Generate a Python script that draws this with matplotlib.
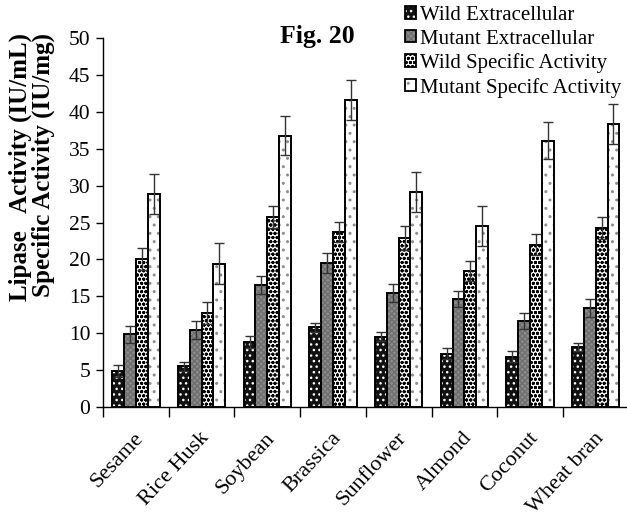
import matplotlib
matplotlib.use("Agg")
import matplotlib.pyplot as plt
import numpy as np
from matplotlib.patches import Patch
from matplotlib.legend_handler import HandlerTuple
import matplotlib.transforms as mtransforms

categories = ["Sesame", "Rice Husk", "Soybean", "Brassica", "Sunflower", "Almond", "Coconut", "Wheat bran"]
series_names = ["Wild Extracellular", "Mutant Extracellular", "Wild Specific Activity", "Mutant Specifc Activity"]

wild_ext = [4.8, 5.5, 8.8, 10.8, 9.5, 7.2, 6.8, 8.1]
wild_ext_err = [0.8, 0.6, 0.8, 0.6, 0.6, 0.7, 0.7, 0.6]
mutant_ext = [9.8, 10.4, 16.5, 19.5, 15.4, 14.6, 11.6, 13.4]
mutant_ext_err = [1.1, 1.2, 1.2, 1.3, 1.2, 1.1, 1.1, 1.2]
wild_spec = [20.0, 12.7, 25.8, 23.7, 22.9, 18.4, 22.0, 24.3]
wild_spec_err = [1.5, 1.5, 1.5, 1.4, 1.6, 1.4, 1.4, 1.5]
mutant_spec = [28.9, 19.4, 36.8, 41.6, 29.1, 24.5, 36.1, 38.4]
mutant_spec_err = [2.7, 2.8, 2.6, 2.7, 2.7, 2.7, 2.5, 2.7]

yticks = [0, 5, 10, 15, 20, 25, 30, 35, 40, 45, 50]

plt.rcParams['font.family'] = ['Liberation Serif', 'DejaVu Serif']
plt.rcParams['hatch.linewidth'] = 1.0

W, H = 627, 517
fig = plt.figure(figsize=(W / 100, H / 100), dpi=100)
left = 103 / W
right = 628.6 / W
bottom = (H - 406.7) / H
top = (H - 38.3) / H
ax = fig.add_axes([left, bottom, right - left, top - bottom])

x = np.arange(len(categories))
bw = 0.18
offsets = [-1.5 * bw, -0.5 * bw, 0.5 * bw, 1.5 * bw]

styles = [
    dict(face="#111111", hatch="...", hcolor="white"),
    dict(face="#8c8c8c", hatch="xxxxxx", hcolor="#6e6e6e"),
    dict(face="white", hatch="oooo", hcolor="black"),
    dict(face="white", hatch="..", hcolor="#909090"),
]
data = [wild_ext, mutant_ext, wild_spec, mutant_spec]
errs = [wild_ext_err, mutant_ext_err, wild_spec_err, mutant_spec_err]

handles = []
for i, (vals, er, st) in enumerate(zip(data, errs, styles)):
    pos = x + offsets[i]
    ax.bar(pos, vals, bw, color=st["face"], edgecolor="none", linewidth=0, zorder=2)
    ax.bar(pos, vals, bw, facecolor="none", edgecolor=st["hcolor"], hatch=st["hatch"], linewidth=0, zorder=3)
    ax.bar(pos, vals, bw, facecolor="none", edgecolor="black", linewidth=1.4, zorder=4)
    ax.errorbar(pos, vals, yerr=er, fmt="none", ecolor="#333333", elinewidth=1.0,
                capsize=3.8, capthick=1.0, zorder=5)
    h1 = Patch(facecolor=st["face"], edgecolor="none", linewidth=0)
    h2 = Patch(facecolor="none", edgecolor=st["hcolor"], hatch=st["hatch"], linewidth=0)
    h3 = Patch(facecolor="none", edgecolor="black", linewidth=1.3)
    handles.append((h1, h2, h3))

ax.set_xlim(-0.5, len(categories) - 0.5)
ax.set_ylim(0, 50)
ax.set_yticks(yticks)
ax.set_yticklabels([str(t) for t in yticks], fontsize=15.5)
ax.tick_params(axis="y", direction="out", length=5, width=1, pad=4)

ax.set_xticks(x)
ax.set_xticks(np.arange(-0.5, len(categories), 1.0), minor=True)
ax.tick_params(axis="x", which="major", length=0, pad=19)
ax.tick_params(axis="x", which="minor", direction="out", length=7, width=1)
ax.set_xticklabels(categories, rotation=47, ha="right", va="center",
                   rotation_mode="anchor", fontsize=16)
for lab in ax.get_xticklabels():
    lab.set_transform(lab.get_transform() + mtransforms.ScaledTranslation(5 / 100, -2 / 100, fig.dpi_scale_trans))

for s in ["top", "right"]:
    ax.spines[s].set_visible(False)
ax.spines["left"].set_linewidth(1.0)
ax.spines["bottom"].set_linewidth(1.0)

fig.text(20 / W, 1 - 33 / H, "Lipase   Activity (IU/mL)", rotation=90, ha="center", va="top",
         fontsize=18, fontweight="bold")
fig.text(43 / W, 1 - 33 / H, "Specific Activity (IU/mg)", rotation=90, ha="center", va="top",
         fontsize=18, fontweight="bold")

fig.text(317 / W, 1 - 37 / H, "Fig. 20", ha="center", va="center", fontsize=18.5, fontweight="bold")

leg = fig.legend(handles, series_names, handler_map={tuple: HandlerTuple(ndivide=1, pad=0)},
                 loc="upper left", bbox_to_anchor=(405 / W, 1 - 6 / H), frameon=False,
                 fontsize=15, handlelength=0.55, handleheight=0.55, handletextpad=0.15,
                 labelspacing=0.22, borderpad=0, borderaxespad=0)

fig.savefig("out.png", dpi=100)
